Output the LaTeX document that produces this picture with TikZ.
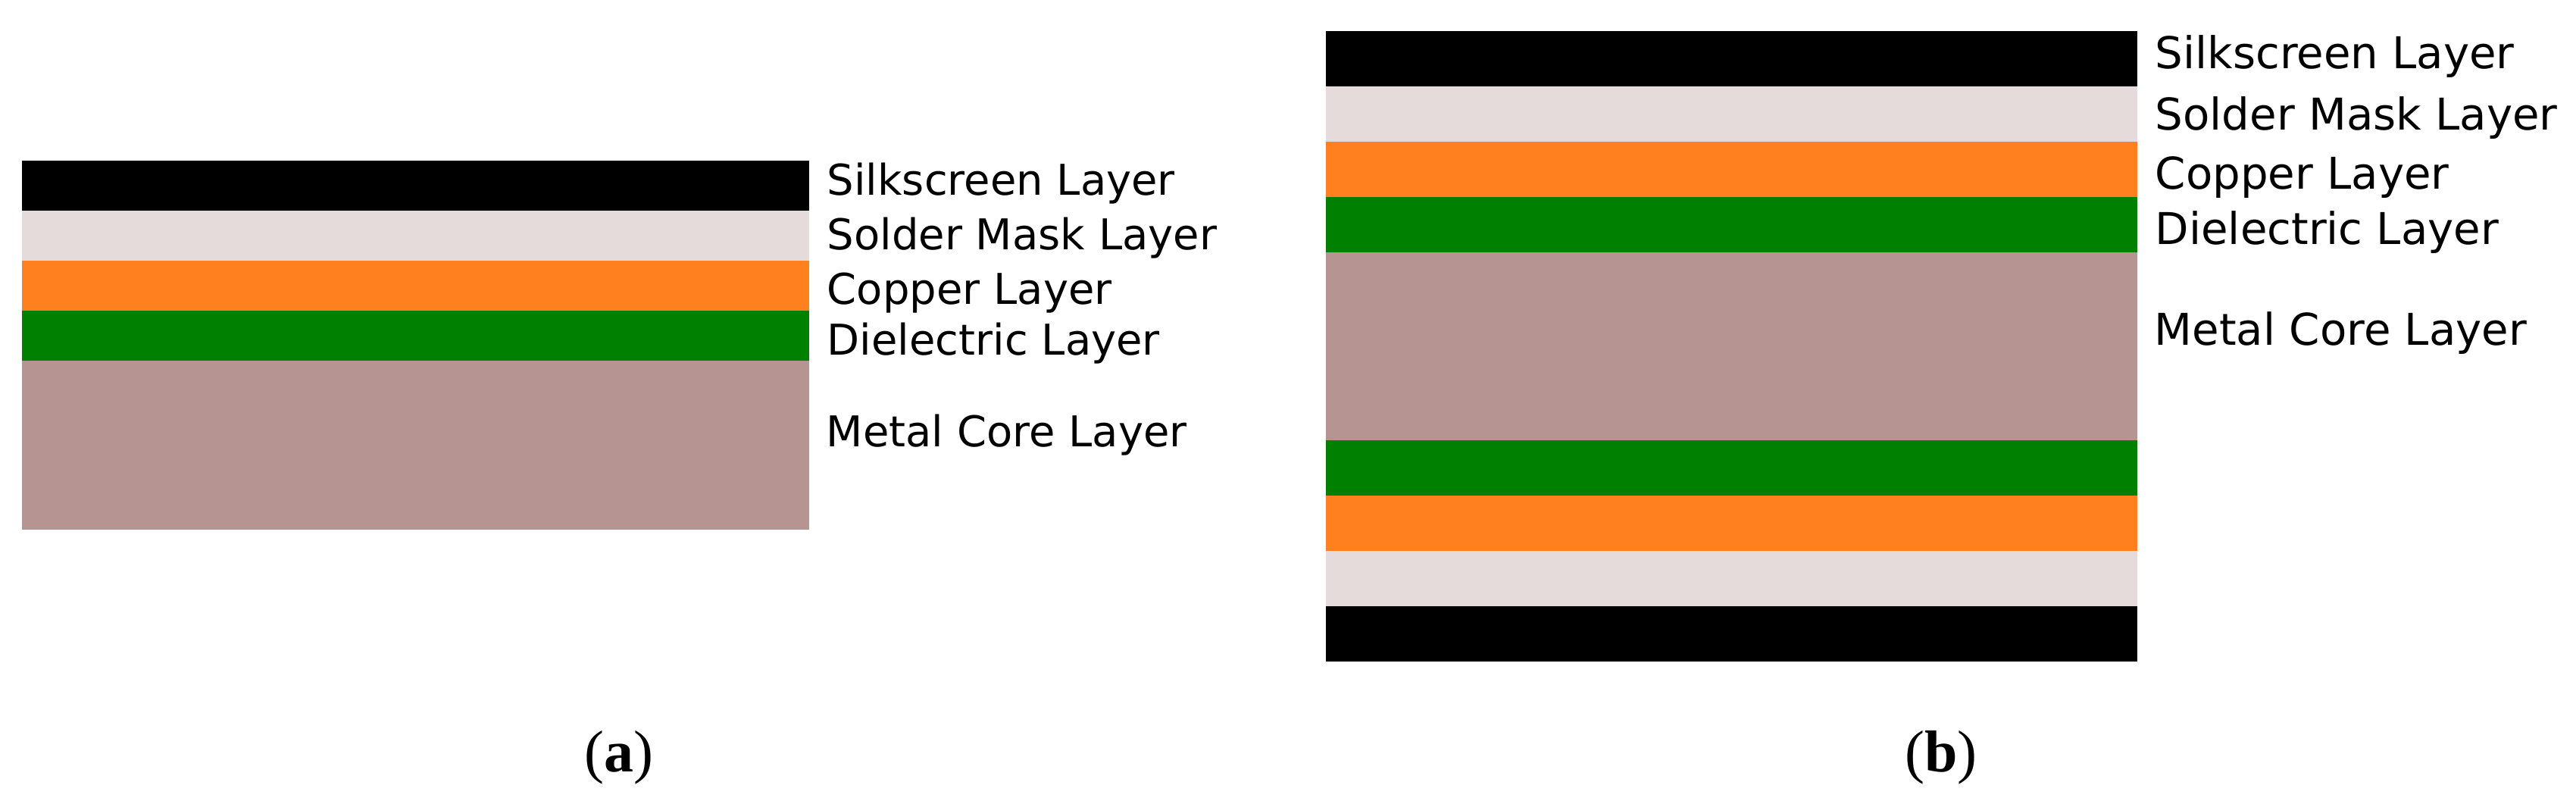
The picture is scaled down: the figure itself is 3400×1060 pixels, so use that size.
\documentclass[tikz,border=0pt]{standalone}
\usepackage{fontspec}
\setmainfont{Liberation Serif}
\newfontfamily\labelfont{DejaVu Sans}
\definecolor{silkc}{RGB}{0,0,0}
\definecolor{maskc}{RGB}{229,219,219}
\definecolor{copperc}{RGB}{255,128,30}
\definecolor{dielc}{RGB}{0,128,0}
\definecolor{metalc}{RGB}{182,148,146}
\begin{document}
\begin{tikzpicture}[x=0.25pt,y=-0.25pt,
  lbla/.style={anchor=base west,inner sep=0pt,font=\labelfont\fontsize{14}{16}\selectfont},
  lblb/.style={anchor=base west,inner sep=0pt,font=\labelfont\fontsize{14.45}{16}\selectfont},
  capt/.style={anchor=base,inner sep=0pt,font=\fontsize{19.5}{22}\selectfont}]
\useasboundingbox (0,0) rectangle (3400,1060);
% panel (a)
\fill[silkc]   (29,212) rectangle (1068,278);
\fill[maskc]   (29,278) rectangle (1068,344);
\fill[copperc] (29,344) rectangle (1068,410);
\fill[dielc]   (29,410) rectangle (1068,476);
\fill[metalc]  (29,476) rectangle (1068,699);
\node[lbla] (a1) at (1091,257) {Silkscreen Layer};
\node[lbla] (a2) at (1091,329) {Solder Mask Layer};
\node[lbla] (a3) at (1091,401) {Copper Layer};
\node[lbla] (a4) at (1091,468) {Dielectric Layer};
\node[lbla] (a5) at (1090,589) {Metal Core Layer};
% panel (b)
\fill[silkc]   (1750,41)  rectangle (2821,114);
\fill[maskc]   (1750,114) rectangle (2821,187);
\fill[copperc] (1750,187) rectangle (2821,260);
\fill[dielc]   (1750,260) rectangle (2821,333);
\fill[metalc]  (1750,333) rectangle (2821,581);
\fill[dielc]   (1750,581) rectangle (2821,654);
\fill[copperc] (1750,654) rectangle (2821,727);
\fill[maskc]   (1750,727) rectangle (2821,800);
\fill[silkc]   (1750,800) rectangle (2821,873);
\node[lblb] (b1) at (2844,90)  {Silkscreen Layer};
\node[lblb] (b2) at (2844,171) {Solder Mask Layer};
\node[lblb] (b3) at (2844,249) {Copper Layer};
\node[lblb] (b4) at (2844,322) {Dielectric Layer};
\node[lblb] (b5) at (2843,455) {Metal Core Layer};
% captions
\node[capt] (ca) at (817,1018) {(\textbf{a})};
\node[capt] (cb) at (2562,1018) {(\textbf{b})};
\end{tikzpicture}
\end{document}
